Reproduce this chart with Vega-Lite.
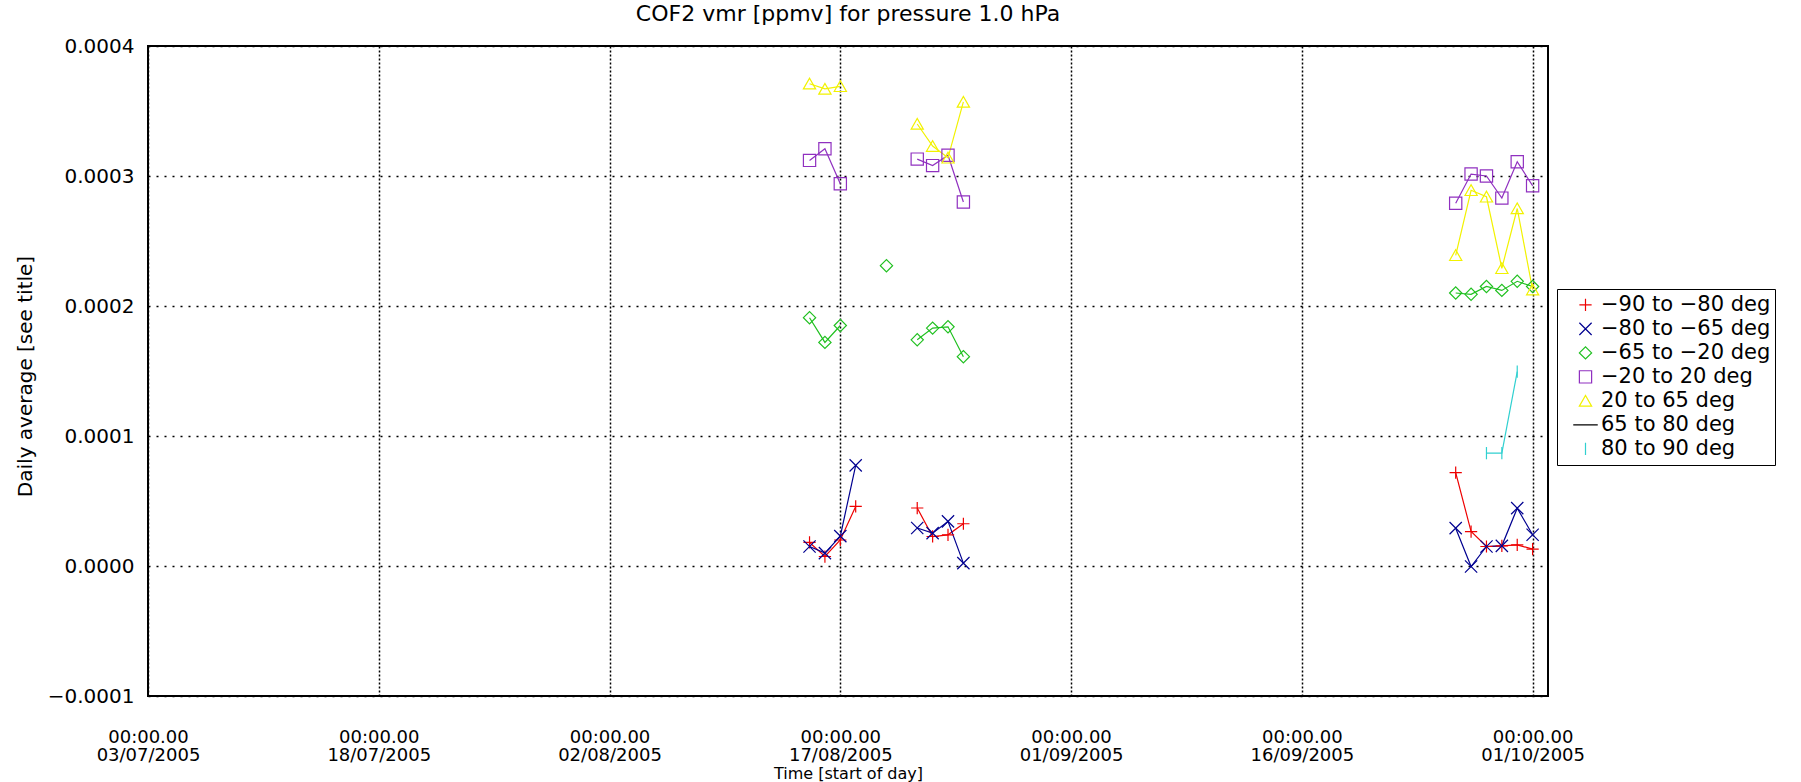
{
  "$schema": "https://vega.github.io/schema/vega-lite/v6.json",
  "width": 1400,
  "height": 650,
  "autosize": {"type": "none"},
  "padding": {"left": 148, "top": 46, "right": 253, "bottom": 86},
  "background": "white",
  "title": {"text": "COF2 vmr [ppmv] for pressure 1.0 hPa", "font": "DejaVu Sans", "fontSize": 22, "fontWeight": "normal", "color": "black", "anchor": "middle", "frame": "group", "offset": 10},
  "config": {
    "view": {"stroke": "black", "strokeWidth": 2},
    "axis": {"labelFont": "DejaVu Sans", "titleFont": "DejaVu Sans", "labelColor": "black", "titleColor": "black", "titleFontWeight": "normal", "domain": false, "ticks": false, "grid": true, "gridColor": "black", "gridOpacity": 1, "labelOverlap": false, "labelFlush": false}
  },
  "data": {"values": [
    {"s": "−90 to −80 deg", "d": "2005-08-15", "v": 0.0000181, "run": 1},
    {"s": "−90 to −80 deg", "d": "2005-08-16", "v": 0.0000073, "run": 1},
    {"s": "−90 to −80 deg", "d": "2005-08-17", "v": 0.0000200, "run": 1},
    {"s": "−90 to −80 deg", "d": "2005-08-18", "v": 0.0000458, "run": 1},
    {"s": "−90 to −80 deg", "d": "2005-08-22", "v": 0.0000446, "run": 2},
    {"s": "−90 to −80 deg", "d": "2005-08-23", "v": 0.0000227, "run": 2},
    {"s": "−90 to −80 deg", "d": "2005-08-24", "v": 0.0000240, "run": 2},
    {"s": "−90 to −80 deg", "d": "2005-08-25", "v": 0.0000325, "run": 2},
    {"s": "−90 to −80 deg", "d": "2005-09-26", "v": 0.0000719, "run": 3},
    {"s": "−90 to −80 deg", "d": "2005-09-27", "v": 0.0000265, "run": 3},
    {"s": "−90 to −80 deg", "d": "2005-09-28", "v": 0.0000150, "run": 3},
    {"s": "−90 to −80 deg", "d": "2005-09-29", "v": 0.0000155, "run": 3},
    {"s": "−90 to −80 deg", "d": "2005-09-30", "v": 0.0000163, "run": 3},
    {"s": "−90 to −80 deg", "d": "2005-10-01", "v": 0.0000130, "run": 3},
    {"s": "−80 to −65 deg", "d": "2005-08-15", "v": 0.0000150, "run": 1},
    {"s": "−80 to −65 deg", "d": "2005-08-16", "v": 0.0000099, "run": 1},
    {"s": "−80 to −65 deg", "d": "2005-08-17", "v": 0.0000230, "run": 1},
    {"s": "−80 to −65 deg", "d": "2005-08-18", "v": 0.0000774, "run": 1},
    {"s": "−80 to −65 deg", "d": "2005-08-22", "v": 0.0000292, "run": 2},
    {"s": "−80 to −65 deg", "d": "2005-08-23", "v": 0.0000253, "run": 2},
    {"s": "−80 to −65 deg", "d": "2005-08-24", "v": 0.0000343, "run": 2},
    {"s": "−80 to −65 deg", "d": "2005-08-25", "v": 0.0000022, "run": 2},
    {"s": "−80 to −65 deg", "d": "2005-09-26", "v": 0.0000291, "run": 3},
    {"s": "−80 to −65 deg", "d": "2005-09-27", "v": -0.0000004, "run": 3},
    {"s": "−80 to −65 deg", "d": "2005-09-28", "v": 0.0000150, "run": 3},
    {"s": "−80 to −65 deg", "d": "2005-09-29", "v": 0.0000155, "run": 3},
    {"s": "−80 to −65 deg", "d": "2005-09-30", "v": 0.0000445, "run": 3},
    {"s": "−80 to −65 deg", "d": "2005-10-01", "v": 0.0000240, "run": 3},
    {"s": "−65 to −20 deg", "d": "2005-08-15", "v": 0.000191, "run": 1},
    {"s": "−65 to −20 deg", "d": "2005-08-16", "v": 0.000172, "run": 1},
    {"s": "−65 to −20 deg", "d": "2005-08-17", "v": 0.000185, "run": 1},
    {"s": "−65 to −20 deg", "d": "2005-08-20", "v": 0.000231, "run": 2},
    {"s": "−65 to −20 deg", "d": "2005-08-22", "v": 0.000174, "run": 3},
    {"s": "−65 to −20 deg", "d": "2005-08-23", "v": 0.000183, "run": 3},
    {"s": "−65 to −20 deg", "d": "2005-08-24", "v": 0.000184, "run": 3},
    {"s": "−65 to −20 deg", "d": "2005-08-25", "v": 0.000161, "run": 3},
    {"s": "−65 to −20 deg", "d": "2005-09-26", "v": 0.000210, "run": 4},
    {"s": "−65 to −20 deg", "d": "2005-09-27", "v": 0.000209, "run": 4},
    {"s": "−65 to −20 deg", "d": "2005-09-28", "v": 0.000215, "run": 4},
    {"s": "−65 to −20 deg", "d": "2005-09-29", "v": 0.000212, "run": 4},
    {"s": "−65 to −20 deg", "d": "2005-09-30", "v": 0.000219, "run": 4},
    {"s": "−65 to −20 deg", "d": "2005-10-01", "v": 0.000215, "run": 4},
    {"s": "−20 to 20 deg", "d": "2005-08-15", "v": 0.000312, "run": 1},
    {"s": "−20 to 20 deg", "d": "2005-08-16", "v": 0.000321, "run": 1},
    {"s": "−20 to 20 deg", "d": "2005-08-17", "v": 0.000294, "run": 1},
    {"s": "−20 to 20 deg", "d": "2005-08-22", "v": 0.000313, "run": 2},
    {"s": "−20 to 20 deg", "d": "2005-08-23", "v": 0.000308, "run": 2},
    {"s": "−20 to 20 deg", "d": "2005-08-24", "v": 0.000316, "run": 2},
    {"s": "−20 to 20 deg", "d": "2005-08-25", "v": 0.000280, "run": 2},
    {"s": "−20 to 20 deg", "d": "2005-09-26", "v": 0.000279, "run": 3},
    {"s": "−20 to 20 deg", "d": "2005-09-27", "v": 0.0003015, "run": 3},
    {"s": "−20 to 20 deg", "d": "2005-09-28", "v": 0.000300, "run": 3},
    {"s": "−20 to 20 deg", "d": "2005-09-29", "v": 0.000283, "run": 3},
    {"s": "−20 to 20 deg", "d": "2005-09-30", "v": 0.000311, "run": 3},
    {"s": "−20 to 20 deg", "d": "2005-10-01", "v": 0.0002925, "run": 3},
    {"s": "20 to 65 deg", "d": "2005-08-15", "v": 0.000371, "run": 1},
    {"s": "20 to 65 deg", "d": "2005-08-16", "v": 0.000367, "run": 1},
    {"s": "20 to 65 deg", "d": "2005-08-17", "v": 0.000369, "run": 1},
    {"s": "20 to 65 deg", "d": "2005-08-22", "v": 0.000340, "run": 2},
    {"s": "20 to 65 deg", "d": "2005-08-23", "v": 0.000323, "run": 2},
    {"s": "20 to 65 deg", "d": "2005-08-24", "v": 0.000314, "run": 2},
    {"s": "20 to 65 deg", "d": "2005-08-25", "v": 0.000357, "run": 2},
    {"s": "20 to 65 deg", "d": "2005-09-26", "v": 0.000239, "run": 3},
    {"s": "20 to 65 deg", "d": "2005-09-27", "v": 0.000289, "run": 3},
    {"s": "20 to 65 deg", "d": "2005-09-28", "v": 0.000284, "run": 3},
    {"s": "20 to 65 deg", "d": "2005-09-29", "v": 0.000229, "run": 3},
    {"s": "20 to 65 deg", "d": "2005-09-30", "v": 0.000275, "run": 3},
    {"s": "20 to 65 deg", "d": "2005-10-01", "v": 0.0002125, "run": 3},
    {"s": "80 to 90 deg", "d": "2005-09-28", "v": 0.0000868, "run": 1},
    {"s": "80 to 90 deg", "d": "2005-09-29", "v": 0.0000868, "run": 1},
    {"s": "80 to 90 deg", "d": "2005-09-30", "v": 0.0001496, "run": 1}
  ]},
  "encoding": {
    "x": {
      "field": "d", "type": "temporal",
      "scale": {"type": "utc", "domain": [{"year": 2005, "month": 7, "date": 3, "utc": true}, {"year": 2005, "month": 10, "date": 2, "utc": true}]},
      "axis": {
        "values": [
          {"year": 2005, "month": 7, "date": 3, "utc": true},
          {"year": 2005, "month": 7, "date": 18, "utc": true},
          {"year": 2005, "month": 8, "date": 2, "utc": true},
          {"year": 2005, "month": 8, "date": 17, "utc": true},
          {"year": 2005, "month": 9, "date": 1, "utc": true},
          {"year": 2005, "month": 9, "date": 16, "utc": true},
          {"year": 2005, "month": 10, "date": 1, "utc": true}
        ],
        "labelExpr": "['00:00.00', utcFormat(datum.value, '%d/%m/%Y')]",
        "labelFontSize": 18, "labelLineHeight": 18, "labelPadding": 32, "labelAngle": 0,
        "gridDash": [2, 2], "gridWidth": 1.5,
        "title": "Time [start of day]", "titleFontSize": 16, "titleBaseline": "middle", "titleY": 77
      }
    },
    "y": {
      "field": "v", "type": "quantitative",
      "scale": {"domain": [-0.0001, 0.0004], "nice": false, "zero": false},
      "axis": {
        "values": [-0.0001, 0, 0.0001, 0.0002, 0.0003, 0.0004],
        "format": ".4f", "labelFontSize": 20, "labelPadding": 14,
        "gridDash": [2, 6], "gridWidth": 1.5,
        "title": "Daily average [see title]", "titleFontSize": 20, "titleX": -123, "titleY": 330, "titleBaseline": "middle"
      }
    }
  },
  "layer": [
    {
      "mark": {"type": "line", "strokeWidth": 1.2},
      "encoding": {
        "color": {"field": "s", "type": "nominal",
          "scale": {"domain": ["−90 to −80 deg", "−80 to −65 deg", "−65 to −20 deg", "−20 to 20 deg", "20 to 65 deg", "65 to 80 deg", "80 to 90 deg"],
                    "range": ["#ee0000", "#000090", "#20c020", "#9030c0", "#f2f200", "#000000", "#30d0d0"]},
          "legend": {"orient": "none", "legendX": 1409, "legendY": 243, "title": null, "labelFont": "DejaVu Sans", "labelFontSize": 21, "labelColor": "black", "labelLimit": 400, "labelOffset": 5, "symbolOffset": 14, "padding": 4, "strokeColor": "black", "fillColor": "white", "rowPadding": 0, "symbolSize": 150, "clipHeight": 23.75, "symbolStrokeWidth": 1.2}
        },
        "detail": {"field": "run", "type": "nominal"}
      }
    },
    {
      "mark": {"type": "point", "filled": false, "strokeWidth": 1.2, "size": 150, "opacity": 1},
      "encoding": {
        "color": {"field": "s", "type": "nominal"},
        "shape": {"field": "s", "type": "nominal",
          "scale": {"domain": ["−90 to −80 deg", "−80 to −65 deg", "−65 to −20 deg", "−20 to 20 deg", "20 to 65 deg", "65 to 80 deg", "80 to 90 deg"],
                    "range": ["M-1,0H1M0,-1V1", "M-1,-1L1,1M-1,1L1,-1", "M-1,0L0,-1L1,0L0,1Z", "M-1,-1H1V1H-1Z", "M-1,0.85L0,-0.9L1,0.85Z", "M-2,0H2", "M0,-1V1"]},
          "legend": null
        }
      }
    }
  ]
}
